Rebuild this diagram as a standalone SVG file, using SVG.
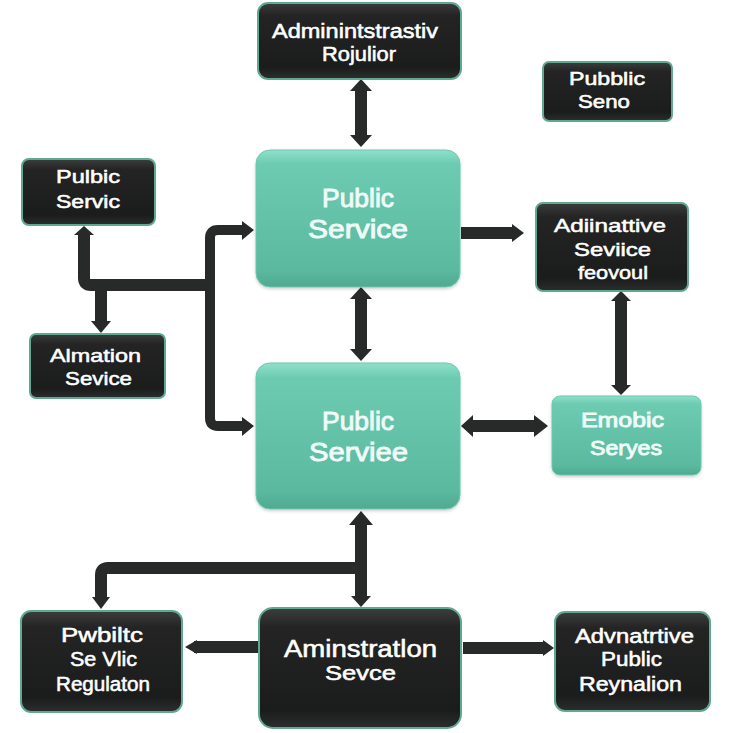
<svg xmlns="http://www.w3.org/2000/svg" width="733" height="733" viewBox="0 0 733 733">
<style>
text{font-family:"Liberation Sans",Arial,sans-serif;font-weight:400;fill:#fff;stroke:#fff;stroke-width:.55;text-anchor:start}
.d{fill:url(#dark);stroke:#5fa892;stroke-width:2}
.t{fill:url(#teal);stroke:#6cc8af;stroke-width:1}
.c{fill:none;stroke:#272a29;stroke-width:12;stroke-linejoin:round}
.n{stroke-width:10}
.h{fill:#272a29}
.lt text{fill:#f0faf7;stroke:#f0faf7;stroke-width:.9}
</style>
<defs>
<linearGradient id="dark" x1="0" y1="0" x2="0" y2="1"><stop offset="0" stop-color="#3c3d3d"/><stop offset=".16" stop-color="#232423"/><stop offset=".85" stop-color="#1b1c1c"/><stop offset="1" stop-color="#2c2d2d"/></linearGradient>
<linearGradient id="teal" x1="0" y1="0" x2="0" y2="1"><stop offset="0" stop-color="#90e0cb"/><stop offset=".1" stop-color="#6dcbb2"/><stop offset=".88" stop-color="#5ab99f"/><stop offset="1" stop-color="#50a991"/></linearGradient>
<filter id="sh" x="-10%" y="-10%" width="120%" height="120%"><feDropShadow dx="0" dy="1.5" stdDeviation="1.5" flood-color="#000" flood-opacity=".2"/></filter>
</defs>
<g id="connectors">
<path class="c" d="M361 88V140"/><polygon class="h" points="361,79 372,91 350,91"/><polygon class="h" points="361,147 350,135 372,135"/>
<path class="c" d="M461 233H512"/><polygon class="h" points="524,233 512,224 512,242"/>
<path class="c" d="M361 296V352"/><polygon class="h" points="361,287 372,299 350,299"/><polygon class="h" points="361,361 350,349 372,349"/>
<path class="c" d="M470 426H536"/><polygon class="h" points="461,426 473,415 473,437"/><polygon class="h" points="548,426 534,415 534,437"/>
<path class="c" d="M621 300V388"/><polygon class="h" points="621,291 631,301 611,301"/><polygon class="h" points="621,395 611,385 631,385"/>
<path class="c" d="M84 234V278Q84 285 91 285H211"/><polygon class="h" points="84,226 74,235 94,235"/>
<path class="c" d="M101 285V323"/><polygon class="h" points="101,333 91,321 111,321"/>
<path class="c n" d="M243 230H218Q210 230 210 238V418Q210 426 218 426H243"/><polygon class="h" points="254,230 242,221 242,240"/><polygon class="h" points="254,426 242,417 242,436"/>
<path class="c" d="M361 520V598"/><polygon class="h" points="361,511 373,525 349,525"/><polygon class="h" points="361,607 351,596 371,596"/>
<path class="c" d="M361 568H108Q101 568 101 575V598"/><polygon class="h" points="101,609 92,597 110,597"/>
<path class="c" d="M258 647H194"/><polygon class="h" points="185,647 197,640 197,654"/>
<path class="c" d="M463 648H544"/><polygon class="h" points="554,648 543,640 543,656"/>
</g>
<g id="node-admin-top"><rect class="d" x="258" y="3" width="203" height="76" rx="10"/><text x="272" y="38" font-size="20" textLength="166" lengthAdjust="spacingAndGlyphs">Adminintstrastiv</text><text x="322" y="61" font-size="20" textLength="74" lengthAdjust="spacingAndGlyphs">Rojulior</text></g>
<g id="node-public-seno"><rect class="d" x="543" y="62" width="129" height="59" rx="6"/><text x="569" y="85" font-size="18" textLength="76" lengthAdjust="spacingAndGlyphs">Pubblic</text><text x="578" y="108" font-size="18" textLength="52" lengthAdjust="spacingAndGlyphs">Seno</text></g>
<g id="node-public-left"><rect class="d" x="22" y="159" width="133" height="66" rx="7"/><text x="56" y="183" font-size="18" textLength="64" lengthAdjust="spacingAndGlyphs">Pulbic</text><text x="56" y="208" font-size="18" textLength="64" lengthAdjust="spacingAndGlyphs">Servic</text></g>
<g id="node-main-1" class="lt"><rect class="t" filter="url(#sh)" x="256" y="150" width="204" height="137" rx="14"/><text x="322" y="207" font-size="26" textLength="72" lengthAdjust="spacingAndGlyphs">Public</text><text x="308" y="238" font-size="26" textLength="100" lengthAdjust="spacingAndGlyphs">Service</text></g>
<g id="node-admin-right"><rect class="d" x="536" y="203" width="152" height="88" rx="7"/><text x="554" y="232" font-size="19" textLength="112" lengthAdjust="spacingAndGlyphs">Adiinattive</text><text x="574" y="256" font-size="19" textLength="77" lengthAdjust="spacingAndGlyphs">Seviice</text><text x="578" y="279" font-size="19" textLength="70" lengthAdjust="spacingAndGlyphs">feovoul</text></g>
<g id="node-alimation"><rect class="d" x="30" y="334" width="135" height="64" rx="6"/><text x="50" y="362" font-size="19" textLength="91" lengthAdjust="spacingAndGlyphs">Almation</text><text x="65" y="385" font-size="19" textLength="67" lengthAdjust="spacingAndGlyphs">Sevice</text></g>
<g id="node-main-2" class="lt"><rect class="t" filter="url(#sh)" x="256" y="363" width="204" height="146" rx="14"/><text x="322" y="430" font-size="26" textLength="72" lengthAdjust="spacingAndGlyphs">Public</text><text x="309" y="461" font-size="26" textLength="99" lengthAdjust="spacingAndGlyphs">Serviee</text></g>
<g id="node-emobic" class="lt"><rect class="t" filter="url(#sh)" x="552" y="396" width="149" height="79" rx="8"/><text x="581" y="427" font-size="20" textLength="83" lengthAdjust="spacingAndGlyphs">Emobic</text><text x="590" y="455" font-size="20" textLength="72" lengthAdjust="spacingAndGlyphs">Seryes</text></g>
<g id="node-public-bottom"><rect class="d" x="21" y="611" width="161" height="101" rx="10"/><text x="61" y="642" font-size="20" textLength="82" lengthAdjust="spacingAndGlyphs">Pwbiltc</text><text x="70" y="666" font-size="20" textLength="67" lengthAdjust="spacingAndGlyphs">Se Vlic</text><text x="56" y="691" font-size="20" textLength="94" lengthAdjust="spacingAndGlyphs">Regulaton</text></g>
<g id="node-admin-service"><rect class="d" x="259" y="608" width="202" height="120" rx="14"/><text x="284" y="657" font-size="23" textLength="153" lengthAdjust="spacingAndGlyphs">Aminstratlon</text><text x="325" y="680" font-size="20" textLength="71" lengthAdjust="spacingAndGlyphs">Sevce</text></g>
<g id="node-admin-bottom"><rect class="d" x="555" y="612" width="155" height="99" rx="10"/><text x="575" y="643" font-size="20" textLength="119" lengthAdjust="spacingAndGlyphs">Advnatrtive</text><text x="601" y="666" font-size="20" textLength="61" lengthAdjust="spacingAndGlyphs">Public</text><text x="579" y="691" font-size="20" textLength="103" lengthAdjust="spacingAndGlyphs">Reynalion</text></g>
</svg>
